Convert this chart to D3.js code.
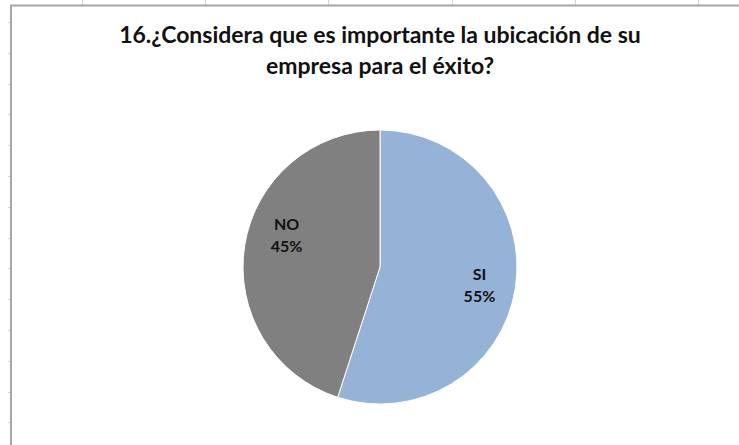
<!DOCTYPE html>
<html>
<head>
<meta charset="utf-8">
<script src="https://cdn.jsdelivr.net/npm/d3@7"></script>
<style>
  html, body { margin: 0; padding: 0; background: #fff; }
  svg { display: block; }
</style>
</head>
<body>
<script>
// Survey answers for question 16
const categories = ["SI", "NO"];
const values = [55, 45];
const sliceColors = ["#95b3d7", "#808080"];
const titleLines = [
  "16.¿Considera que es importante la ubicación de su",
  "empresa para el éxito?"
];

const W = 739, H = 445;
const svg = d3.select("body").append("svg")
  .attr("width", W).attr("height", H);

// Worksheet background: column separators above the chart and row ticks on the left
const sheet = svg.append("g").attr("stroke", "#d4d4d4").attr("stroke-width", 1);
for (let x = 82; x < W; x += 123.2) {
  sheet.append("line").attr("x1", Math.round(x) + 0.5).attr("x2", Math.round(x) + 0.5)
    .attr("y1", 0).attr("y2", 5);
}
for (let y = 22; y < H; y += 30.8) {
  sheet.append("line").attr("x1", 8).attr("x2", 11)
    .attr("y1", Math.round(y) + 0.5).attr("y2", Math.round(y) + 0.5);
}

// Chart area frame
svg.append("rect")
  .attr("x", 11).attr("y", 5.5).attr("width", W + 20).attr("height", H + 20)
  .attr("fill", "#fff").attr("stroke", "#a6a6a6").attr("stroke-width", 2);

// Title
const title = svg.append("text")
  .attr("text-anchor", "middle")
  .attr("font-family", "Lato, 'Open Sans', sans-serif")
  .attr("font-weight", "bold")
  .attr("font-size", 23)
  .attr("fill", "#111");
titleLines.forEach((t, i) => {
  title.append("tspan").attr("x", 380).attr("y", 43 + i * 31).text(t);
});

// Pie
const cx = 380, cy = 267, R = 137;
const data = categories.map((c, i) => ({ cat: c, value: values[i], color: sliceColors[i] }));
const pie = d3.pie().sort(null).value(d => d.value);
const arcs = pie(data);
const arc = d3.arc().innerRadius(0).outerRadius(R);

const g = svg.append("g").attr("transform", `translate(${cx},${cy})`);
g.selectAll("path.slice").data(arcs).join("path")
  .attr("class", "slice")
  .attr("d", arc)
  .attr("fill", d => d.data.color)
  .attr("stroke", "#ffffff")
  .attr("stroke-width", 1);

// Data labels: category name and percentage of total
const total = d3.sum(values);
const pct = d3.format(".0%");
const labelArc = d3.arc().innerRadius(R * 0.72).outerRadius(R * 0.72);
const nudge = { SI: [2, 0], NO: [4, -20] };
const labels = g.selectAll("text.lbl").data(arcs).join("text")
  .attr("class", "lbl")
  .attr("text-anchor", "middle")
  .attr("font-family", "Lato, 'Open Sans', sans-serif")
  .attr("font-weight", "bold")
  .attr("font-size", 16)
  .attr("fill", "#111")
  .attr("transform", d => {
    const [x, y] = labelArc.centroid(d);
    const [dx, dy] = nudge[d.data.cat];
    return `translate(${x + dx},${y + dy})`;
  });
labels.append("tspan").attr("x", 0).attr("y", -2).text(d => d.data.cat);
labels.append("tspan").attr("x", 0).attr("y", 20).text(d => pct(d.data.value / total));
</script>
</body>
</html>
